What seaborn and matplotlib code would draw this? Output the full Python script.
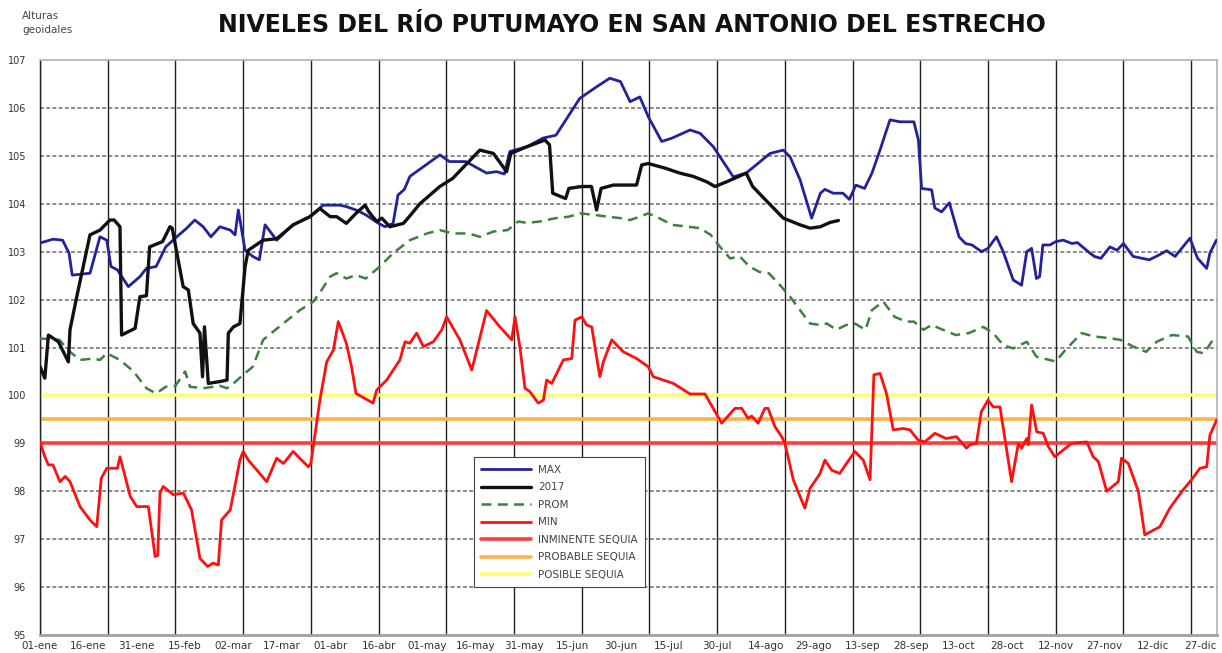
import matplotlib
matplotlib.use("Agg")
import matplotlib.pyplot as plt
import seaborn as sns
import pandas as pd

# ---------------- data (day of year, level) ----------------
max_days = [0, 4, 7, 9, 10, 15.5, 18.6, 20.7, 22, 24,
            27.4, 31, 33, 36, 39, 42.4, 45.5, 48, 50.6, 53,
            55.8, 59, 60.5, 61.5, 63.6, 66, 68, 69.8, 73.4, 78.5,
            83.7, 87.8, 93, 95, 98, 101, 105, 107, 109.5, 111,
            113, 114.7, 117.8, 124, 127, 132, 138.5, 141.6, 144, 145.7,
            151, 156, 160, 167.4, 172.6, 176.7, 180, 183, 186, 188.6,
            192.8, 196, 201.6, 204.7, 208.8, 215, 219, 226.4, 230.5, 232.6,
            235.7, 239.3, 242, 243.4, 246, 249, 251, 253, 255.7, 258,
            260.5, 262, 263.6, 266.7, 271, 272.4, 273.4, 276.5, 277.5, 279.6,
            282, 285, 287, 289, 292, 294, 296.6, 298.7, 301.8, 304.4,
            306, 307.5, 309, 310, 311, 313.2, 315, 317.3, 320, 321.7,
            325.6, 327, 329, 331.8, 334, 336, 339, 344, 347, 349.4,
            352, 356.6, 359, 361.8, 362.8, 364.8]
max_vals = [103.18, 103.26, 103.24, 102.97, 102.51, 102.55, 103.31, 103.24, 102.69, 102.62,
            102.27, 102.48, 102.65, 102.69, 103.1, 103.31, 103.49, 103.66, 103.52, 103.31,
            103.52, 103.45, 103.35, 103.87, 103.03, 102.9, 102.83, 103.56, 103.24, 103.56,
            103.73, 103.97, 103.97, 103.94, 103.87, 103.77, 103.59, 103.52, 103.59, 104.18,
            104.3, 104.57, 104.72, 105.02, 104.88, 104.88, 104.64, 104.67, 104.62, 105.09,
            105.19, 105.37, 105.43, 106.2, 106.44, 106.62, 106.55, 106.13, 106.23, 105.82,
            105.3, 105.37, 105.54, 105.47, 105.19, 104.56, 104.64, 105.05, 105.12, 104.98,
            104.5, 103.7, 104.22, 104.3, 104.22, 104.22, 104.09, 104.39, 104.32, 104.64,
            105.12, 105.43, 105.75, 105.71, 105.71, 105.33, 104.32, 104.29, 103.91, 103.83,
            104.02, 103.31, 103.17, 103.14, 103.0, 103.07, 103.31, 103.0, 102.41, 102.3,
            103.0, 103.07, 102.44, 102.48, 103.14, 103.14, 103.21, 103.24, 103.17, 103.19,
            102.97, 102.9, 102.86, 103.1, 103.03, 103.17, 102.9, 102.83, 102.93, 103.02,
            102.9, 103.28, 102.86, 102.65, 102.97, 103.24]

y2017_days = [0, 1.5, 2.6, 5.7, 8.8, 9.3, 11.4, 15.5, 18.6, 21.7,
              23, 24.8, 25.3, 29.5, 30.5, 31, 33, 34, 38, 40.3,
              41, 44.4, 46, 47.5, 49.6, 50.4, 51, 52.2, 55.8, 58,
              58.4, 60, 62, 63.6, 64.6, 69.2, 73.4, 78.5, 83.7, 86.8,
              90, 92, 95, 98, 100.8, 102, 104.4, 106, 108.5, 112.7,
              115, 117.8, 124, 128, 136.4, 140.6, 144.7, 146, 151, 156.6,
              158, 159, 163, 164, 168, 171, 172.6, 174, 177.8, 185,
              186.6, 188.6, 194, 198.4, 202.6, 206.7, 209.3, 213, 219, 221,
              225, 230.5, 235.7, 238.8, 242, 245, 247.6]
y2017_vals = [100.6, 100.36, 101.26, 101.12, 100.7, 101.37, 102.06, 103.35, 103.45, 103.66,
              103.66, 103.52, 101.26, 101.4, 101.85, 102.06, 102.08, 103.1, 103.21, 103.52,
              103.49, 102.27, 102.2, 101.5, 101.3, 100.39, 101.43, 100.25, 100.29, 100.32,
              101.3, 101.43, 101.5, 102.69, 103.03, 103.24, 103.27, 103.56, 103.73, 103.9,
              103.73, 103.73, 103.59, 103.8, 103.97, 103.83, 103.63, 103.7, 103.52, 103.59,
              103.77, 104.0, 104.36, 104.53, 105.12, 105.05, 104.67, 105.05, 105.19, 105.33,
              105.23, 104.22, 104.11, 104.32, 104.36, 104.36, 103.87, 104.32, 104.39, 104.39,
              104.81, 104.84, 104.74, 104.64, 104.57, 104.46, 104.36, 104.46, 104.64, 104.36,
              104.08, 103.7, 103.56, 103.49, 103.52, 103.61, 103.65]

prom_days = [0, 6, 9.3, 12.4, 16.5, 18.6, 20.7, 24.8, 29, 33,
             36, 39, 42, 45, 46.5, 50.6, 55.8, 58, 60, 63,
             66, 69.2, 75.4, 80.6, 84.8, 87.3, 90, 92, 95, 98,
             101, 105.4, 109.5, 114.7, 120, 124, 128, 133, 136.4, 140.6,
             145, 148.3, 151, 155, 160, 164, 167.4, 171.6, 176, 180,
             183, 186, 188.6, 192, 196, 201, 204.7, 208, 210.9, 214,
             217, 220, 223, 226, 229.5, 232.6, 235.7, 238.8, 242, 244,
             247, 250, 252.7, 256, 258, 261.5, 265, 268.7, 271, 274,
             276.5, 280, 284, 288, 292.5, 295.6, 298.7, 301.8, 306, 309,
             313, 315, 318, 323, 327, 331, 335, 339, 343, 346.3,
             351, 356, 358.7, 361, 364]
prom_vals = [101.19, 101.16, 100.91, 100.74, 100.77, 100.74, 100.88, 100.74, 100.5, 100.15,
             100.04, 100.18, 100.2, 100.5, 100.18, 100.15, 100.2, 100.15, 100.25, 100.43,
             100.6, 101.16, 101.5, 101.78, 101.96, 102.2, 102.48, 102.55, 102.44, 102.51,
             102.44, 102.69, 102.97, 103.24, 103.38, 103.45, 103.38, 103.38, 103.31, 103.42,
             103.45, 103.63, 103.6, 103.63, 103.7, 103.73, 103.8, 103.77, 103.73, 103.7,
             103.66, 103.73, 103.8, 103.7, 103.56, 103.52, 103.49, 103.35, 103.1, 102.86,
             102.9, 102.69, 102.58, 102.55, 102.3, 102.06, 101.78, 101.5, 101.47, 101.5,
             101.37, 101.47, 101.5, 101.37, 101.78, 101.96, 101.64, 101.54, 101.54, 101.37,
             101.47, 101.37, 101.26, 101.3, 101.43, 101.3, 101.05, 100.98, 101.12, 100.81,
             100.74, 100.71, 100.95, 101.3, 101.23, 101.2, 101.16, 101.02, 100.91, 101.12,
             101.26, 101.23, 100.91, 100.88, 101.19]

min_days = [0, 1.5, 2.6, 4, 6.2, 7.8, 9.3, 12.4, 15.5, 17.6,
            19, 20.7, 24, 24.8, 28, 30, 33.6, 35.7, 36.5, 37.2,
            38.2, 41.3, 44.5, 47, 49.6, 52, 53.7, 55.3, 56.3, 59,
            62, 63, 64.6, 70.3, 73.4, 75.5, 78.5, 83.2, 84, 86.8,
            88.9, 91, 92.5, 95, 96.6, 98, 103.3, 104.4, 107.5, 111.6,
            113.2, 114.7, 116.8, 118.9, 122, 124.6, 126.1, 130.2, 133.9, 138.5,
            142.6, 146.3, 147.3, 148.8, 150.4, 151.9, 154.5, 156.1, 157.1, 158.7,
            162.3, 164.9, 165.9, 168, 169.5, 171.1, 173.6, 174.7, 177.3, 180.9,
            185, 188.6, 190.2, 196.4, 201.6, 206.2, 211.4, 215.5, 217.6, 219.6,
            220.7, 222.7, 224.8, 225.8, 227.9, 230, 231, 233.6, 235.7, 237.2,
            238.8, 241.9, 243.4, 245.5, 248, 250.1, 252.7, 255.3, 257.4, 258.6,
            260.5, 262.5, 264.6, 267.7, 269.8, 272.3, 274.4, 277.5, 281, 284.2,
            287.3, 288.4, 290.4, 291.9, 294, 295.6, 297.7, 301.3, 303.4, 304.4,
            306, 306.5, 307.5, 309.1, 311.1, 312.7, 314.7, 317.3, 319.9, 324.6,
            326.6, 328.2, 330.8, 334.4, 335.4, 337.5, 340.6, 342.6, 347.3, 350.4,
            354.5, 357.1, 359.7, 361.8, 362.8, 364.9]
min_vals = [99.03, 98.72, 98.55, 98.55, 98.2, 98.31, 98.2, 97.68, 97.4, 97.26,
            98.27, 98.48, 98.48, 98.72, 97.89, 97.68, 97.68, 96.64, 96.66, 97.96,
            98.1, 97.93, 97.96, 97.61, 96.6, 96.43, 96.5, 96.46, 97.4, 97.61,
            98.65, 98.83, 98.65, 98.2, 98.69, 98.58, 98.83, 98.51, 98.58, 99.9,
            100.7, 100.95, 101.54, 101.09, 100.6, 100.04, 99.84, 100.11, 100.32, 100.74,
            101.12, 101.09, 101.3, 101.02, 101.12, 101.37, 101.64, 101.16, 100.53, 101.77,
            101.43, 101.16, 101.64, 101.02, 100.15, 100.08, 99.84, 99.9, 100.32, 100.25,
            100.74, 100.77, 101.57, 101.64, 101.47, 101.43, 100.39, 100.7, 101.16, 100.91,
            100.77, 100.6, 100.39, 100.25, 100.03, 100.03, 99.42, 99.73, 99.73, 99.52,
            99.57, 99.42, 99.73, 99.73, 99.35, 99.14, 99.0, 98.24, 97.89, 97.65,
            98.06, 98.37, 98.65, 98.44, 98.37, 98.58, 98.83, 98.65, 98.24, 100.43,
            100.46, 100.04, 99.28, 99.31, 99.28, 99.07, 99.03, 99.21, 99.1, 99.14,
            98.9, 98.97, 99.0, 99.66, 99.9, 99.76, 99.76, 98.2, 99.0, 98.9,
            99.1, 98.97, 99.8, 99.24, 99.21, 98.93, 98.72, 98.86, 99.0, 99.03,
            98.72, 98.62, 98.0, 98.2, 98.69, 98.58, 98.0, 97.09, 97.26, 97.65,
            98.03, 98.24, 98.48, 98.51, 99.17, 99.49]

thresholds = [99.0, 99.5, 100.0]
threshold_names = ["INMINENTE SEQUIA", "PROBABLE SEQUIA", "POSIBLE SEQUIA"]

tick_labels = ["01-ene", "16-ene", "31-ene", "15-feb", "02-mar", "17-mar", "01-abr", "16-abr", "01-may", "16-may",
               "31-may", "15-jun", "30-jun", "15-jul", "30-jul", "14-ago", "29-ago", "13-sep", "28-sep", "13-oct",
               "28-oct", "12-nov", "27-nov", "12-dic", "27-dic"]

title = "NIVELES DEL RÍO PUTUMAYO EN SAN ANTONIO DEL ESTRECHO"
ylabel = "Alturas\ngeoidales"

# ---------------- plot ----------------
sns.set_style("white")
plt.rcParams["font.family"] = ["DejaVu Sans"]

fig = plt.figure(figsize=(12.22, 6.53), dpi=100)
ax = fig.add_axes([40 / 1222, 18 / 653, 1177 / 1222, 575 / 653])

# horizontal dotted grid
for v in range(96, 107):
    ax.axhline(v, color="#8a8a8a", lw=1.4, ls=(0, (2, 1.2)), zorder=1)
# vertical grid every 21 days
for d in range(0, 365, 21):
    ax.axvline(d, color="#222222", lw=1.0, zorder=1)

thr_colors = ["#ff3b3b", "#ffb347", "#ffff70"]
for v, name, c in zip(thresholds, threshold_names, thr_colors):
    ax.axhline(v, color=c, lw=2.6, zorder=2, label=name)

df_max = pd.DataFrame({"day": max_days, "val": max_vals})
df_17 = pd.DataFrame({"day": y2017_days, "val": y2017_vals})
df_prom = pd.DataFrame({"day": prom_days, "val": prom_vals})
df_min = pd.DataFrame({"day": min_days, "val": min_vals})

sns.lineplot(data=df_max, x="day", y="val", ax=ax, color="#22229a", lw=2.0, label="MAX", zorder=4, estimator=None,
             sort=False)
sns.lineplot(data=df_17, x="day", y="val", ax=ax, color="#111111", lw=2.4, label="2017", zorder=5, estimator=None,
             sort=False)
sns.lineplot(data=df_prom, x="day", y="val", ax=ax, color="#3f7f3f", lw=1.8, ls=(0, (4, 2.5)), label="PROM",
             zorder=4, estimator=None, sort=False)
sns.lineplot(data=df_min, x="day", y="val", ax=ax, color="#ff1010", lw=2.0, label="MIN", zorder=4, estimator=None,
             sort=False)

ax.set_xlim(0, 365)
ax.set_ylim(95, 107)
ax.set_xticks([15 * i for i in range(len(tick_labels))])
ax.set_xticklabels(tick_labels, fontsize=7.5, color="#333333")
ax.set_yticks(range(95, 108))
ax.set_yticklabels([str(v) for v in range(95, 108)], fontsize=7, color="#333333")
ax.tick_params(axis="x", length=0, pad=4)
ax.tick_params(axis="y", length=4, width=0.8, color="#888888", pad=6)
ax.set_xlabel("")
ax.set_ylabel("")

for side in ["top", "right"]:
    ax.spines[side].set_color("#b0b0b0")
    ax.spines[side].set_linewidth(1.2)
ax.spines["bottom"].set_color("#a0a0a0")
ax.spines["bottom"].set_linewidth(2.0)
ax.spines["left"].set_color("#222222")
ax.spines["left"].set_linewidth(1.0)

handles, labels = ax.get_legend_handles_labels()
order = ["MAX", "2017", "PROM", "MIN", "INMINENTE SEQUIA", "PROBABLE SEQUIA", "POSIBLE SEQUIA"]
hmap = dict(zip(labels, handles))
leg = ax.legend([hmap[k] for k in order], order, loc="upper left", bbox_to_anchor=(0.364, 0.318),
                fontsize=7.5, frameon=True, fancybox=False, edgecolor="#444444", framealpha=1,
                handlelength=4.8, labelspacing=0.72, borderpad=0.7, handletextpad=0.7)
leg.get_frame().set_linewidth(0.8)
for t in leg.get_texts():
    t.set_color("#444444")

fig.text(0.517, 0.962, title, ha="center", va="center", fontsize=17, fontweight="bold", color="#111111")
fig.text(0.018, 0.965, ylabel, ha="left", va="center", fontsize=7.5, color="#444444", linespacing=1.5)

fig.savefig("out.png", dpi=100, facecolor="white")
